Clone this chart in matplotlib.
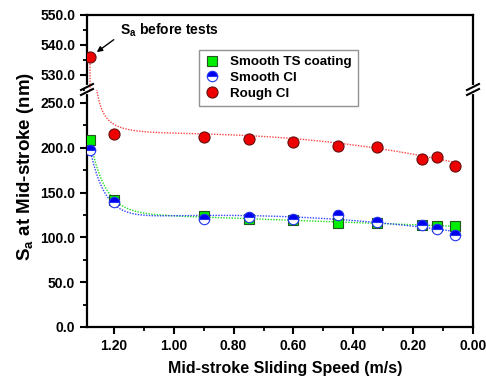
import numpy as np
import matplotlib
matplotlib.use("Agg")
import matplotlib.pyplot as plt
from matplotlib.ticker import MultipleLocator, FormatStrFormatter

plt.rcParams["font.family"] = ["Liberation Sans", "DejaVu Sans"]
plt.rcParams["font.weight"] = "bold"
plt.rcParams["mathtext.default"] = "regular"

# ── Data ──────────────────────────────────────────────────────────────────────
speed = np.array([1.28, 1.20, 0.90, 0.75, 0.60, 0.45, 0.32, 0.17, 0.12, 0.06])
smooth_ts = np.array([209, 142, 124, 120, 119.5, 116, 116, 113.5, 113, 113])
smooth_ci = np.array([198, 140, 120.5, 123, 121, 125, 117.5, 114, 109, 103])
rough_ci = np.array([536, 215, 212, 210, 206.5, 202, 201, 187.5, 189.5, 180])
labels = ["Smooth TS coating", "Smooth CI", "Rough CI"]


def exp_decay(dx, k=20.0):
    return np.exp(-k * dx)


def power_decay(dx, d0=0.005, n=1.0):
    return (d0 / (d0 + dx)) ** n


def smooth_fit(x, y, decay, deg):
    """Least-squares trend: polynomial + decay term anchored at the fastest speed."""
    def basis(xx):
        cols = [xx**i for i in range(deg + 1)]
        cols.append(decay(x.max() - xx))
        return np.column_stack(cols)
    coef, *_ = np.linalg.lstsq(basis(x), y, rcond=None)
    xs = np.linspace(x.min(), x.max(), 500)
    return xs, basis(xs) @ coef


def two_stage_fit(x, y, decay, deg, x_cut=1.0):
    """Polynomial on the plateau (x < x_cut), then a decay term pinned to the first point."""
    slow = x < x_cut
    p = np.polyfit(x[slow], y[slow], deg)
    x0 = x.max()
    amp = (y[np.argmax(x)] - np.polyval(p, x0)) / decay(0.0)
    xs = np.linspace(x.min(), x0, 500)
    return xs, np.polyval(p, xs) + amp * decay(x0 - xs)


# ── Layout (pixel geometry of the reference) ──────────────────────────────────
W, H = 486, 381
fig = plt.figure(figsize=(W / 100, H / 100), dpi=100)
left, right, top, brk, bottom = 87, 473, 15, 90, 327
ax_top = fig.add_axes([left / W, 1 - brk / H, (right - left) / W, (brk - top) / H])
ax_bot = fig.add_axes([left / W, 1 - bottom / H, (right - left) / W, (bottom - brk) / H])

curves = [
    smooth_fit(speed, smooth_ts, exp_decay, 2),
    smooth_fit(speed, smooth_ci, exp_decay, 2),
    two_stage_fit(speed, rough_ci, power_decay, 2),
]
series = [
    (smooth_ts, dict(marker="s", ms=7, mfc="#00ee00", mec="#225522"), "#22dd22"),
    (smooth_ci, dict(marker="o", ms=7.5, mfc="#0000ee", mec="#2233ee", fillstyle="top",
                     markerfacecoloralt="white"), "#3344ff"),
    (rough_ci, dict(marker="o", ms=8, mfc="#ee0000", mec="#661111"), "#ff4444"),
]

handles = []
for (vals, mk, lc), (xs, ys) in zip(series, curves):
    for ax in (ax_top, ax_bot):
        ax.plot(xs, ys, linestyle=(0, (1, 1)), color=lc, lw=1.0, zorder=2)
        h, = ax.plot(speed, vals, linestyle="none", mew=0.8, zorder=3, **mk)
    handles.append(h)

for ax in (ax_top, ax_bot):
    ax.set_xlim(1.29, 0.0)
    for s in ax.spines.values():
        s.set_linewidth(1.6)
    ax.tick_params(axis="both", which="major", direction="out", length=5, width=1.5,
                   labelsize=10)
    ax.tick_params(axis="both", which="minor", direction="out", length=3, width=1.3)
    ax.yaxis.set_major_formatter(FormatStrFormatter("%.1f"))

ax_top.set_ylim(525, 550)
ax_top.set_yticks([530, 540, 550])
ax_top.yaxis.set_minor_locator(MultipleLocator(5))
ax_top.spines["bottom"].set_visible(False)
ax_top.tick_params(axis="x", which="both", bottom=False, labelbottom=False)

ax_bot.set_ylim(0, 264.5)
ax_bot.set_yticks(np.arange(0, 251, 50))
ax_bot.yaxis.set_minor_locator(MultipleLocator(25))
ax_bot.spines["top"].set_visible(False)
ax_bot.xaxis.set_major_locator(MultipleLocator(0.2))
ax_bot.xaxis.set_minor_locator(MultipleLocator(0.1))
ax_bot.xaxis.set_major_formatter(FormatStrFormatter("%.2f"))
ax_bot.tick_params(axis="x", which="major", pad=4)

# break marks on both vertical spines
for xp in (left, right):
    fig.add_artist(plt.Line2D([xp / W, xp / W], [1 - (brk + 2) / H, 1 - (brk - 3) / H],
                              color="white", lw=3))
    for y0 in (brk - 3, brk + 2):
        fig.add_artist(plt.Line2D([(xp - 6) / W, (xp + 6) / W],
                                  [1 - (y0 + 3) / H, 1 - (y0 - 3) / H],
                                  color="black", lw=1.5))

# labels
fig.text(26 / W, 1 - 166 / H, "S$_a$ at Mid-stroke (nm)", rotation=90,
         ha="center", va="center", fontsize=13.5, fontweight="bold")
fig.text(285 / W, 1 - 368 / H, "Mid-stroke Sliding Speed (m/s)",
         ha="center", va="center", fontsize=11.5, fontweight="bold")

ax_top.annotate("S$_a$ before tests", xy=(speed[0], rough_ci[0]), xytext=(1.18, 545),
                fontsize=10, fontweight="bold", ha="left", va="center",
                arrowprops=dict(arrowstyle="-|>", color="black", lw=1.0,
                                shrinkA=3, shrinkB=6, mutation_scale=8,
                                relpos=(0.0, 0.2)))

leg = fig.legend(handles, labels, loc="upper left", bbox_to_anchor=(199 / W, 1 - 50 / H),
                 borderaxespad=0, frameon=True, fancybox=False, fontsize=9.6,
                 handlelength=1.0, handletextpad=0.9, borderpad=0.45, labelspacing=0.25)
leg.get_frame().set_edgecolor("#777777")
leg.get_frame().set_linewidth(1.0)

fig.savefig("out.png", dpi=100)
